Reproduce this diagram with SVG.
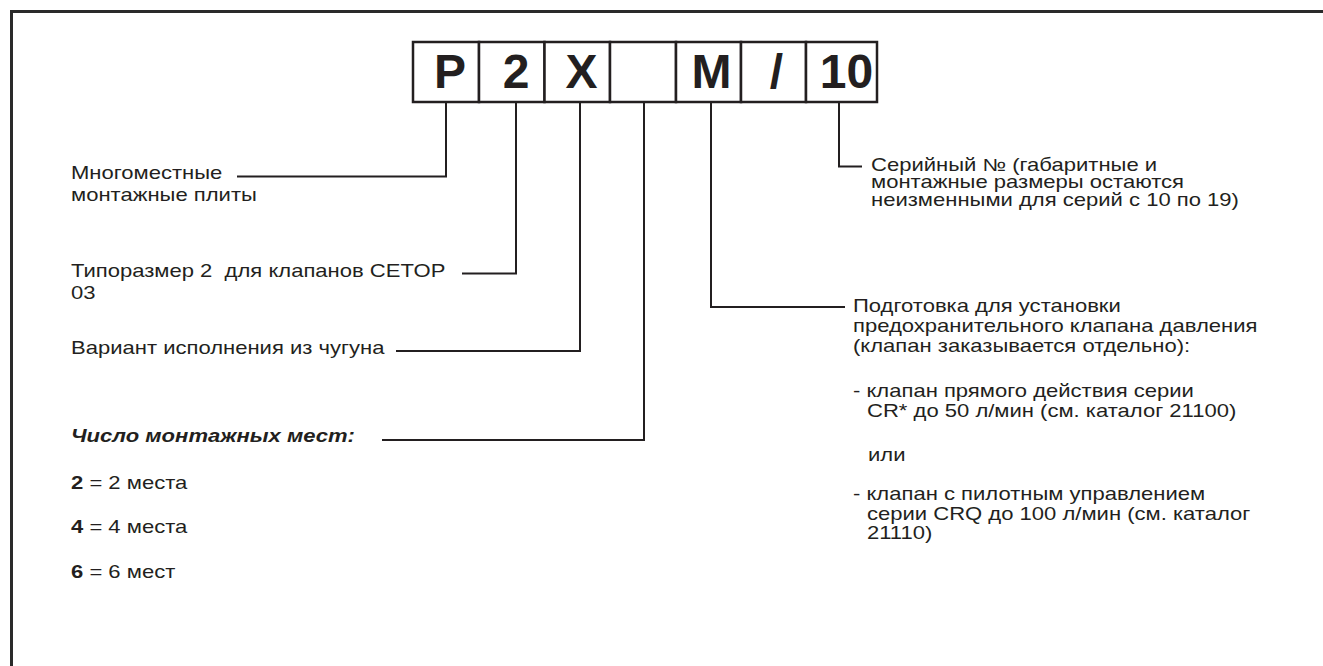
<svg xmlns="http://www.w3.org/2000/svg" width="1323" height="666" viewBox="0 0 1323 666">
<style>
.frame{fill:none;stroke:#2a2a2a;stroke-width:3}
.box{fill:#fff;stroke:#231f20;stroke-width:2.5}
.code{font-family:"Liberation Sans",Arial,sans-serif;font-size:48px;font-weight:bold;fill:#231f20;text-anchor:middle}
.lead{fill:none;stroke:#231f20;stroke-width:2}
.t{font-family:"Liberation Sans",Arial,sans-serif;font-size:17.5px;fill:#231f20;white-space:pre}
.bi{font-weight:bold;font-style:italic}
.b{font-weight:bold}
</style>
<rect width="1323" height="666" fill="#fff"/>
<path class="frame" d="M11.5,700 V11.5 H1340"/>
<g id="code-boxes">
<g id="box-P"><rect class="box" x="413" y="42" width="66" height="60"/><text class="code" x="450" y="88">P</text></g>
<g id="box-2"><rect class="box" x="479" y="42" width="65.5" height="60"/><text class="code" x="516" y="88">2</text></g>
<g id="box-X"><rect class="box" x="544.5" y="42" width="65.5" height="60"/><text class="code" x="581.5" y="88">X</text></g>
<g id="box-blank"><rect class="box" x="610" y="42" width="66" height="60"/></g>
<g id="box-M"><rect class="box" x="676" y="42" width="65" height="60"/><text class="code" x="711.5" y="88">M</text></g>
<g id="box-slash"><rect class="box" x="741" y="42" width="65" height="60"/><text class="code" x="776.5" y="88">/</text></g>
<g id="box-10"><rect class="box" x="806" y="42" width="71" height="60"/><text class="code" x="846.5" y="88">10</text></g>
</g>
<g id="connectors">
<path class="lead" d="M446,102 V176.5 H237"/>
<path class="lead" d="M516,102 V273.5 H462"/>
<path class="lead" d="M580,102 V351 H396"/>
<path class="lead" d="M644,102 V440 H382"/>
<path class="lead" d="M711,102 V307 H845"/>
<path class="lead" d="M839,102 V166.5 H862"/>
</g>
<g id="label-P">
<text class="t" transform="translate(71,178.5) scale(1.26,1)">Многоместные</text>
<text class="t" transform="translate(71,200.5) scale(1.26,1)">монтажные плиты</text>
</g>
<g id="label-2">
<text class="t" transform="translate(71,277) scale(1.26,1)">Типоразмер 2  для клапанов CETOP</text>
<text class="t" transform="translate(71,298.5) scale(1.26,1)">03</text>
</g>
<g id="label-X">
<text class="t" transform="translate(71,354) scale(1.26,1)">Вариант исполнения из чугуна</text>
</g>
<g id="label-places">
<text class="t bi" transform="translate(71,442) scale(1.26,1)">Число монтажных мест:</text>
<text class="t" transform="translate(71,489) scale(1.26,1)"><tspan class="b">2</tspan> = 2 места</text>
<text class="t" transform="translate(71,533) scale(1.26,1)"><tspan class="b">4</tspan> = 4 места</text>
<text class="t" transform="translate(71,578) scale(1.26,1)"><tspan class="b">6</tspan> = 6 мест</text>
</g>
<g id="label-10">
<text class="t" transform="translate(871,170.5) scale(1.26,1)">Серийный № (габаритные и</text>
<text class="t" transform="translate(871,188) scale(1.26,1)">монтажные размеры остаются</text>
<text class="t" transform="translate(871,205.5) scale(1.26,1)">неизменными для серий с 10 по 19)</text>
</g>
<g id="label-M">
<text class="t" transform="translate(853,311.5) scale(1.26,1)">Подготовка для установки</text>
<text class="t" transform="translate(853,331.5) scale(1.26,1)">предохранительного клапана давления</text>
<text class="t" transform="translate(853,351.5) scale(1.26,1)">(клапан заказывается отдельно):</text>
<text class="t" transform="translate(853,396.5) scale(1.26,1)">- клапан прямого действия серии</text>
<text class="t" transform="translate(867,417) scale(1.26,1)">CR* до 50 л/мин (см. каталог 21100)</text>
<text class="t" transform="translate(868,461) scale(1.26,1)">или</text>
<text class="t" transform="translate(853,500) scale(1.26,1)">- клапан с пилотным управлением</text>
<text class="t" transform="translate(867,519.5) scale(1.26,1)">серии CRQ до 100 л/мин (см. каталог</text>
<text class="t" transform="translate(867,539) scale(1.26,1)">21110)</text>
</g>
</svg>
